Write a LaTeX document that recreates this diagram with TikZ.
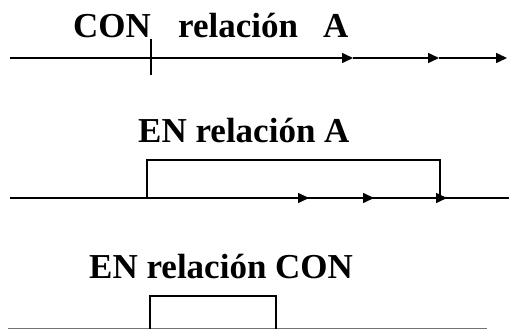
\documentclass[tikz,border=0pt]{standalone}
\usepackage{fontspec}
\setmainfont{Liberation Serif}
\usetikzlibrary{arrows.meta}
\begin{document}
\begin{tikzpicture}[x=1pt,y=-1pt,
  lbl/.style={anchor=base west,inner sep=0pt,font=\fontsize{35}{40}\selectfont\bfseries},
  ln/.style={line width=1.6pt},
  arr/.style={ln,-{Triangle[length=11pt,width=10pt]}}]
\useasboundingbox (0,0) rectangle (509,329);
% row 1
\node[lbl] (con) at (73,38) {CON};
\node[lbl] (rel1) at (178,38) {relación};
\node[lbl] (a1) at (323,38) {A};
\coordinate (r1s) at (10,58);
\coordinate (r1a) at (353,58);
\coordinate (r1b) at (439,58);
\coordinate (r1c) at (507,58);
\draw[arr] (r1s) -- (r1a);
\draw[arr] (r1a) -- (r1b);
\draw[arr] (r1b) -- (r1c);
\draw[ln] (151,39) -- (151,75);
% row 2
\node[lbl] (en2) at (138,142) {EN relación A};
\draw[ln] (10,198) -- (509,198);
\draw[ln] (147,198) -- (147,160) -- (440,160) -- (440,198);
\draw[arr] (147,198) -- (309,198);
\draw[arr] (309,198) -- (374,198);
\draw[arr] (374,198) -- (447,198);
% row 3
\node[lbl] (en3) at (89,278) {EN relación CON};
\draw[line width=2pt,black!55] (8,328.5) -- (487,328.5);
\draw[ln] (150,329) -- (150,296) -- (276,296) -- (276,329);
\end{tikzpicture}
\end{document}
